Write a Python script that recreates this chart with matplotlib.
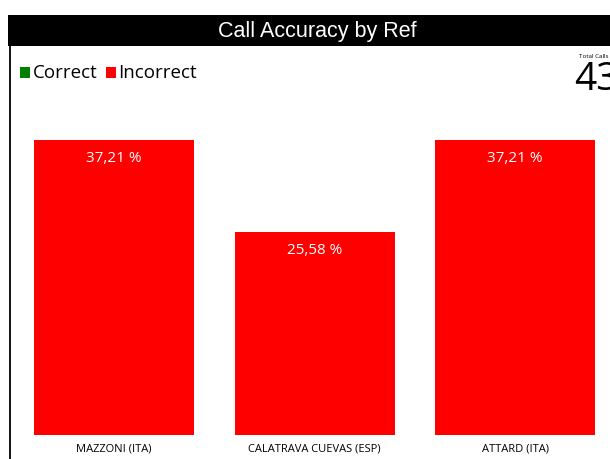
import matplotlib
matplotlib.use("Agg")
import matplotlib.pyplot as plt
from matplotlib.patches import Rectangle

# data
referees = ["MAZZONI (ITA)", "CALATRAVA CUEVAS (ESP)", "ATTARD (ITA)"]
incorrect_pct = [37.21, 25.58, 37.21]
total_calls = 43

W, H = 610, 459
fig = plt.figure(figsize=(W / 100, H / 100), dpi=100, facecolor="white")

# black title bar + left border line
fig.patches.append(Rectangle((8 / W, 1 - 46 / H), 1, 31 / H, transform=fig.transFigure,
                             facecolor="black", edgecolor="none"))
fig.add_artist(plt.Line2D([9.5 / W, 9.5 / W], [0, 1 - 46 / H], transform=fig.transFigure,
                          color="black", lw=1.3))
fig.text(317 / W, 1 - 31 / H, "Call Accuracy by Ref", color="white", ha="center", va="center",
         fontsize=15.5, family="Liberation Sans")

# legend (squares as patches so they don't collide with the text)
for x0, col in [(20, "#008000"), (106, "#ff0000")]:
    fig.patches.append(Rectangle((x0 / W, 1 - 78 / H), 10 / W, 11 / H, transform=fig.transFigure,
                                 facecolor=col, edgecolor="none"))
fig.text(33 / W, 1 - 73 / H, "Correct", color="black", ha="left", va="center", fontsize=13.5,
         family="Open Sans")
fig.text(118 / W, 1 - 73 / H, "Incorrect", color="black", ha="left", va="center", fontsize=13.5,
         family="Open Sans")

# total calls card
fig.text(579 / W, 1 - 56 / H, "Total Calls", fontsize=4.5, ha="left", va="center", family="Open Sans")
fig.text(574 / W, 1 - 80 / H, str(total_calls), fontsize=28, ha="left", va="center", family="Open Sans")

# bar axes
px_per_unit = 200.5
ax = fig.add_axes([14 / W, 24 / H, 3 * px_per_unit / W, (435 - 100) / H])
ax.set_facecolor("none")
x = range(len(referees))
bars = ax.bar(x, incorrect_pct, width=0.8, color="#ff0000")
ax.set_xlim(-0.5, 2.5)
ax.set_ylim(0, (435 - 100) / (295 / 37.21))
for b, v in zip(bars, incorrect_pct):
    ax.text(b.get_x() + b.get_width() / 2, v - 2.3, f"{v:.2f} %".replace(".", ","),
            color="white", ha="center", va="center", fontsize=11, family="Open Sans")
ax.set_xticks(list(x))
ax.set_xticklabels(referees, fontsize=8, family="Open Sans")
ax.tick_params(axis="x", length=0, pad=6)
ax.set_yticks([])
for s in ax.spines.values():
    s.set_visible(False)

fig.savefig("out.png", dpi=100)
